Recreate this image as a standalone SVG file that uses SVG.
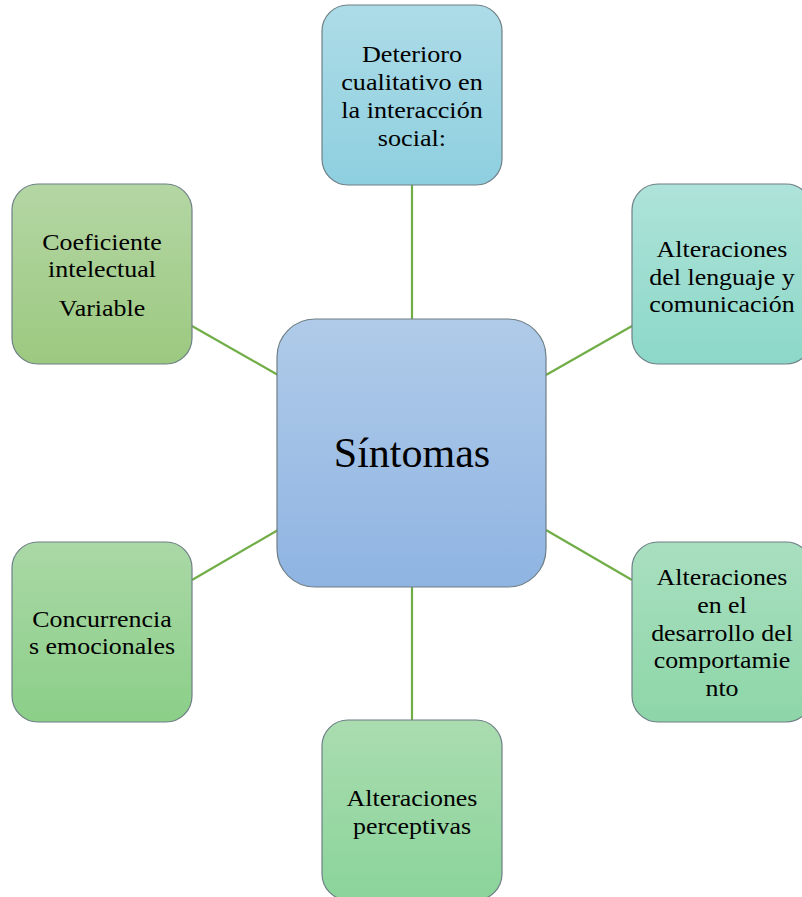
<svg xmlns="http://www.w3.org/2000/svg" width="802" height="897" viewBox="0 0 802 897">
<defs>
<linearGradient id="gCenter" x1="0" y1="0" x2="0" y2="1"><stop offset="0" stop-color="#b0cbe9"/><stop offset="1" stop-color="#8fb4e2"/></linearGradient>
<linearGradient id="gTop" x1="0" y1="0" x2="0" y2="1"><stop offset="0" stop-color="#addce7"/><stop offset="1" stop-color="#8ecfdf"/></linearGradient>
<linearGradient id="gRT" x1="0" y1="0" x2="0" y2="1"><stop offset="0" stop-color="#aee3d9"/><stop offset="1" stop-color="#8cd8c8"/></linearGradient>
<linearGradient id="gRB" x1="0" y1="0" x2="0" y2="1"><stop offset="0" stop-color="#a9dfc0"/><stop offset="1" stop-color="#8dd6a8"/></linearGradient>
<linearGradient id="gB" x1="0" y1="0" x2="0" y2="1"><stop offset="0" stop-color="#aadcb0"/><stop offset="1" stop-color="#8ad49a"/></linearGradient>
<linearGradient id="gLB" x1="0" y1="0" x2="0" y2="1"><stop offset="0" stop-color="#aad8a6"/><stop offset="1" stop-color="#8bcf88"/></linearGradient>
<linearGradient id="gLT" x1="0" y1="0" x2="0" y2="1"><stop offset="0" stop-color="#b4d6a4"/><stop offset="1" stop-color="#9cc980"/></linearGradient>
</defs>
<style>
.box{stroke:#6e7f86;stroke-width:1.2}
.t{font-family:"Liberation Serif","Times New Roman",serif;font-size:24px;fill:#000;text-anchor:middle}
.big{font-family:"Liberation Serif","Times New Roman",serif;font-size:42px;fill:#000;text-anchor:middle}
.conn line{stroke:#70ad47;stroke-width:2.2}
</style>
<g id="connectors" class="conn">
<line x1="412" y1="185" x2="412" y2="319"/>
<line x1="412" y1="587" x2="412" y2="720"/>
<line x1="192" y1="326" x2="278" y2="375"/>
<line x1="546" y1="375" x2="632" y2="326"/>
<line x1="192" y1="580" x2="278" y2="530"/>
<line x1="546" y1="530" x2="632" y2="580"/>
</g>
<g id="node-center">
<rect class="box" x="277" y="319" width="269" height="268" rx="38" fill="url(#gCenter)"/>
<text class="big" x="412" y="467">Síntomas</text>
</g>
<g id="node-top">
<rect class="box" x="322" y="5" width="180" height="180" rx="26" fill="url(#gTop)"/>
<g transform="translate(412,0) scale(1.09,1)">
<text class="t" x="0" y="62">Deterioro</text>
<text class="t" x="0" y="90">cualitativo en</text>
<text class="t" x="0" y="118">la interacción</text>
<text class="t" x="0" y="146">social:</text>
</g>
</g>
<g id="node-right-top">
<rect class="box" x="632" y="184" width="180" height="180" rx="26" fill="url(#gRT)"/>
<g transform="translate(722,0) scale(1.08,1)">
<text class="t" x="0" y="257">Alteraciones</text>
<text class="t" x="0" y="285">del lenguaje y</text>
<text class="t" x="0" y="312">comunicación</text>
</g>
</g>
<g id="node-right-bottom">
<rect class="box" x="632" y="542" width="180" height="180" rx="26" fill="url(#gRB)"/>
<g transform="translate(722,0) scale(1.08,1)">
<text class="t" x="0" y="585">Alteraciones</text>
<text class="t" x="0" y="613">en el</text>
<text class="t" x="0" y="641">desarrollo del</text>
<text class="t" x="0" y="668">comportamie</text>
<text class="t" x="0" y="696">nto</text>
</g>
</g>
<g id="node-bottom">
<rect class="box" x="322" y="720" width="180" height="180" rx="26" fill="url(#gB)"/>
<g transform="translate(412,0) scale(1.08,1)">
<text class="t" x="0" y="806">Alteraciones</text>
<text class="t" x="0" y="834">perceptivas</text>
</g>
</g>
<g id="node-left-bottom">
<rect class="box" x="12" y="542" width="180" height="180" rx="26" fill="url(#gLB)"/>
<g transform="translate(102,0) scale(1.08,1)">
<text class="t" x="0" y="627">Concurrencia</text>
<text class="t" x="0" y="654">s emocionales</text>
</g>
</g>
<g id="node-left-top">
<rect class="box" x="12" y="184" width="180" height="180" rx="26" fill="url(#gLT)"/>
<g transform="translate(102,0) scale(1.08,1)">
<text class="t" x="0" y="250">Coeficiente</text>
<text class="t" x="0" y="277">intelectual</text>
<text class="t" x="0" y="316">Variable</text>
</g>
</g>
</svg>
